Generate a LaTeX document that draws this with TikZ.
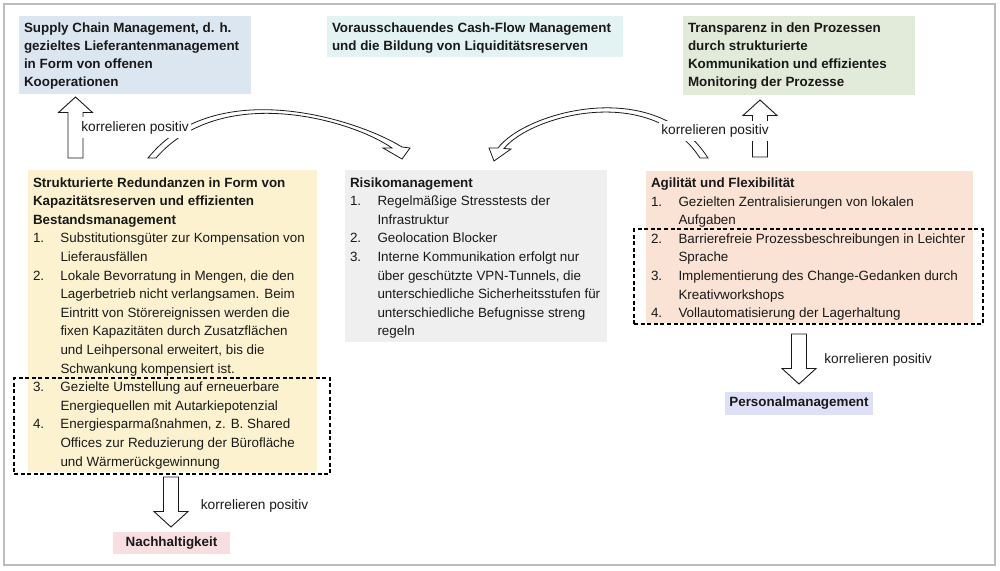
\documentclass[tikz,border=0pt]{standalone}
\usepackage{fontspec}
\setmainfont{Liberation Sans}
\usetikzlibrary{calc}
\definecolor{cBlue}{RGB}{220,230,241}
\definecolor{cCyan}{RGB}{227,243,243}
\definecolor{cGreen}{RGB}{226,234,218}
\definecolor{cYel}{RGB}{253,242,208}
\definecolor{cGray}{RGB}{239,239,239}
\definecolor{cPeach}{RGB}{250,226,212}
\definecolor{cLav}{RGB}{221,224,246}
\definecolor{cPink}{RGB}{248,221,225}
\definecolor{cTxt}{RGB}{25,25,25}
\definecolor{cFrame}{RGB}{188,188,188}
\newcommand\fsz{\fontsize{13.4}{18.6}\selectfont}
\newcommand\fszT{\fontsize{13.4}{18.3}\selectfont}
\newcommand\fszL{\fontsize{13.7}{16}\selectfont}
\newcommand\litem[2]{\makebox[27.5pt][l]{#1}\mbox{#2}}
\newcommand\lcont[1]{\hspace*{27.5pt}\mbox{#1}}
\newcommand\btl[1]{\mbox{\textbf{#1}}}
\newcommand\boxtxt[4]{\parbox[t][#2][t]{#1}{\rule{0pt}{#3}#4}}
\newcommand\vblock[2]{%
  \draw[blockarrow] let \p1=#1, \p2=#2, \n2={\y2-15.5*sign(\y2-\y1)} in
    (\x1-7.5pt,\y1) -- (\x1-7.5pt,\n2) -- (\x1-17pt,\n2) -- (\x2,\y2)
    -- (\x1+17pt,\n2) -- (\x1+7.5pt,\n2) -- (\x1+7.5pt,\y1) -- cycle;}
\tikzset{
  box/.style={anchor=north west, inner xsep=5pt, inner ysep=0pt, outer sep=0pt, text=cTxt},
  tag/.style={anchor=north west, inner sep=0pt, outer sep=0pt, text=cTxt, font=\fsz\bfseries},
  dashbox/.style={draw=black, line width=1.6pt, dash pattern=on 4pt off 2.6pt, anchor=north west, inner sep=0pt, outer sep=0pt},
  blockarrow/.style={draw=cTxt, fill=white, line width=0.9pt, line join=miter},
  curvearrow/.style={draw=cTxt, fill=white, line width=0.8pt, line join=miter},
  lbl/.style={text=cTxt, font=\fszL, inner xsep=2pt, inner ysep=4pt}
}
\begin{document}
\begin{tikzpicture}[x=1pt,y=-1pt]
\useasboundingbox (0,0) rectangle (1000,570);
\draw[cFrame, line width=1.5pt] (4,4) rectangle (995,565);

% top boxes
\node[box, fill=cBlue, font=\fszT] (sc) at (19,16) {\boxtxt{222pt}{78pt}{16pt}{%
\btl{Supply Chain Management, d. h.}\\
\btl{gezieltes Lieferantenmanagement}\\
\btl{in Form von offenen}\\
\btl{Kooperationen}}};
\node[box, fill=cCyan, font=\fszT] (cf) at (327,16) {\boxtxt{286pt}{41pt}{16pt}{%
\btl{Vorausschauendes Cash-Flow Management}\\
\btl{und die Bildung von Liquiditätsreserven}}};
\node[box, fill=cGreen, font=\fszT] (tr) at (683,16) {\boxtxt{222pt}{79pt}{16pt}{%
\btl{Transparenz in den Prozessen}\\
\btl{durch strukturierte}\\
\btl{Kommunikation und effizientes}\\
\btl{Monitoring der Prozesse}}};

% middle boxes
\node[box, fill=cYel, font=\fsz] (yel) at (28,170) {\boxtxt{279pt}{302pt}{17pt}{%
\btl{Strukturierte Redundanzen in Form von}\\
\btl{Kapazitätsreserven und effizienten}\\
\btl{Bestandsmanagement}\\
\litem{1.}{Substitutionsgüter zur Kompensation von}\\
\lcont{Lieferausfällen}\\
\litem{2.}{Lokale Bevorratung in Mengen, die den}\\
\lcont{Lagerbetrieb nicht verlangsamen. Beim}\\
\lcont{Eintritt von Störereignissen werden die}\\
\lcont{fixen Kapazitäten durch Zusatzflächen}\\
\lcont{und Leihpersonal erweitert, bis die}\\
\lcont{Schwankung kompensiert ist.}\\
\litem{3.}{Gezielte Umstellung auf erneuerbare}\\
\lcont{Energiequellen mit Autarkiepotenzial}\\
\litem{4.}{Energiesparmaßnahmen, z. B. Shared}\\
\lcont{Offices zur Reduzierung der Bürofläche}\\
\lcont{und Wärmerückgewinnung}}};
\node[box, fill=cGray, font=\fsz] (risk) at (345,170) {\boxtxt{252pt}{172pt}{17pt}{%
\btl{Risikomanagement}\\
\litem{1.}{Regelmäßige Stresstests der}\\
\lcont{Infrastruktur}\\
\litem{2.}{Geolocation Blocker}\\
\litem{3.}{Interne Kommunikation erfolgt nur}\\
\lcont{über geschützte VPN-Tunnels, die}\\
\lcont{unterschiedliche Sicherheitsstufen für}\\
\lcont{unterschiedliche Befugnisse streng}\\
\lcont{regeln}}};
\node[box, fill=cPeach, font=\fsz] (agi) at (646,171) {\boxtxt{317pt}{152pt}{16.5pt}{%
\btl{Agilität und Flexibilität}\\
\litem{1.}{Gezielten Zentralisierungen von lokalen}\\
\lcont{Aufgaben}\\
\litem{2.}{Barrierefreie Prozessbeschreibungen in Leichter}\\
\lcont{Sprache}\\
\litem{3.}{Implementierung des Change-Gedanken durch}\\
\lcont{Kreativworkshops}\\
\litem{4.}{Vollautomatisierung der Lagerhaltung}}};

% dashed groups
\node[dashbox, minimum width=316pt, minimum height=96pt] (dashL) at (14,378) {};
\node[dashbox, minimum width=349pt, minimum height=95pt] (dashR) at (634,229) {};

% bottom tags
\node[tag, fill=cLav, minimum width=148pt, minimum height=23pt] (pm) at (725,392) {Personalmanagement};
\node[tag, fill=cPink, minimum width=117pt, minimum height=22pt] (nh) at (113,532) {Nachhaltigkeit};

% straight block arrows
\vblock{($(yel.north west)+(47.5,-12)$)}{($(sc.south west)+(56.5,3)$)}
\vblock{($(agi.north west)+(114,-14)$)}{($(tr.south west)+(77,5)$)}
\vblock{($(dashR.south west)+(165,10)$)}{($(pm.north west)+(74,-8)$)}
\vblock{($(dashL.south west)+(157,3)$)}{($(nh.north west)+(58,-5)$)}

% curved arrows
\draw[curvearrow] (148,158) .. controls (215,75) and (355,118) .. (402,147)
  -- (410,148) -- (402,159) -- (383,148) -- (392,148)
  .. controls (352,120) and (222,82) .. (156,158) -- cycle;
\draw[curvearrow] (708,158) .. controls (655,75) and (525,112) .. (498,148)
  -- (489,148) -- (494,161) -- (511,149) -- (504,148.5)
  .. controls (530,116) and (650,82) .. (700,158) -- cycle;

% labels
\node[lbl, fill=white] (kL) at (135,127.5) {korrelieren positiv};
\node[lbl, fill=white] (kR) at (715,131) {korrelieren positiv};
\node[lbl] (kPM) at (878,359.5) {korrelieren positiv};
\node[lbl] (kNH) at (254.5,506) {korrelieren positiv};
\end{tikzpicture}
\end{document}
